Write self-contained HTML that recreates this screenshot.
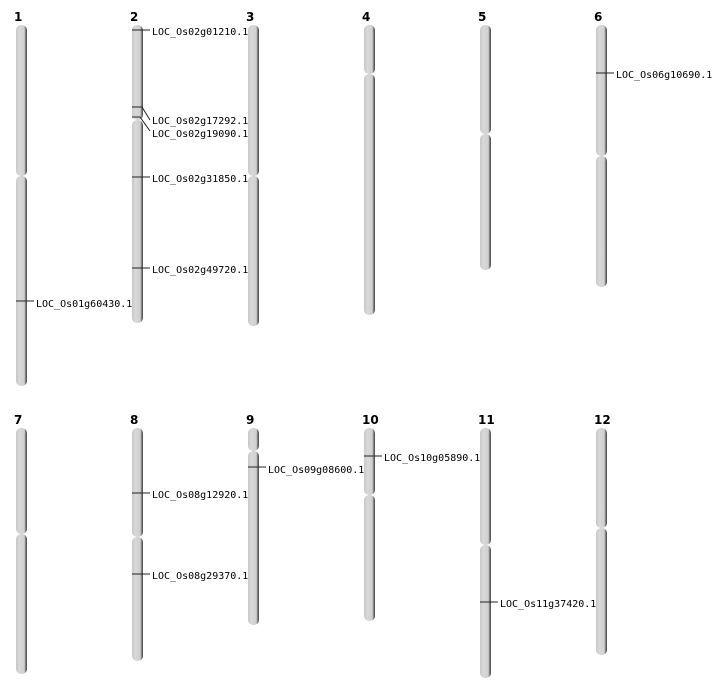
<!DOCTYPE html>
<html><head><style>body{margin:0;background:#fff}svg{display:block}
text{font-family:"DejaVu Sans Mono","Liberation Mono",monospace;font-size:10px;fill:#000}
.n{font-family:"DejaVu Sans","Liberation Sans",sans-serif;font-weight:bold;font-size:12px}
</style></head><body>
<svg width="712" height="700" viewBox="0 0 712 700">
<defs><linearGradient id="g" x1="0" x2="1" y1="0" y2="0">
<stop offset="0" stop-color="#c8c8c8"/><stop offset="0.3" stop-color="#d8d8d8"/><stop offset="0.75" stop-color="#d0d0d0"/><stop offset="0.85" stop-color="#888"/><stop offset="1" stop-color="#444"/></linearGradient></defs>
<g id="chroms"></g>
<g stroke="#222" stroke-width="1">
<line x1="132" y1="30" x2="150" y2="30"/>
<polyline fill="none" points="132,107 142,107 150,120"/>
<polyline fill="none" points="132,117 140,117 150,131"/>
<line x1="132" y1="177" x2="150" y2="177"/>
<line x1="132" y1="268" x2="150" y2="268"/>
<line x1="16" y1="301" x2="34" y2="301"/>
<line x1="596" y1="73" x2="614" y2="73"/>
<line x1="248" y1="467" x2="266" y2="467"/>
<line x1="364" y1="456" x2="382" y2="456"/>
<line x1="132" y1="493" x2="150" y2="493"/>
<line x1="132" y1="574" x2="150" y2="574"/>
<line x1="480" y1="602" x2="498" y2="602"/>
</g>
<text x="152" y="35">LOC_Os02g01210.1</text>
<text x="152" y="124">LOC_Os02g17292.1</text>
<text x="152" y="137">LOC_Os02g19090.1</text>
<text x="152" y="182">LOC_Os02g31850.1</text>
<text x="152" y="273">LOC_Os02g49720.1</text>
<text x="36" y="307">LOC_Os01g60430.1</text>
<text x="616" y="78">LOC_Os06g10690.1</text>
<text x="268" y="473">LOC_Os09g08600.1</text>
<text x="384" y="461">LOC_Os10g05890.1</text>
<text x="152" y="498">LOC_Os08g12920.1</text>
<text x="152" y="579">LOC_Os08g29370.1</text>
<text x="500" y="607">LOC_Os11g37420.1</text>
</svg>
<script>
var d=[[16,25,176,386,"1"],[132,25,120,323,"2"],[248,25,176,326,"3"],[364,25,74,315,"4"],[480,25,134,270,"5"],[596,25,156,287,"6"],
[16,428,534,674,"7"],[132,428,537,661,"8"],[248,428,451,625,"9"],[364,428,495,621,"10"],[480,428,545,678,"11"],[596,428,528,655,"12"]];
var s="";d.forEach(function(c){var x=c[0];
s+='<rect x="'+x+'" y="'+c[1]+'" width="11" height="'+(c[2]-c[1])+'" rx="5" fill="url(#g)"/>';
s+='<rect x="'+x+'" y="'+c[2]+'" width="11" height="'+(c[3]-c[2])+'" rx="5" fill="url(#g)"/>';
s+='<text class="n" x="'+(x-2)+'" y="'+(c[1]-4)+'">'+c[4]+'</text>';});
document.getElementById("chroms").innerHTML=s;
</script>
</body></html>
